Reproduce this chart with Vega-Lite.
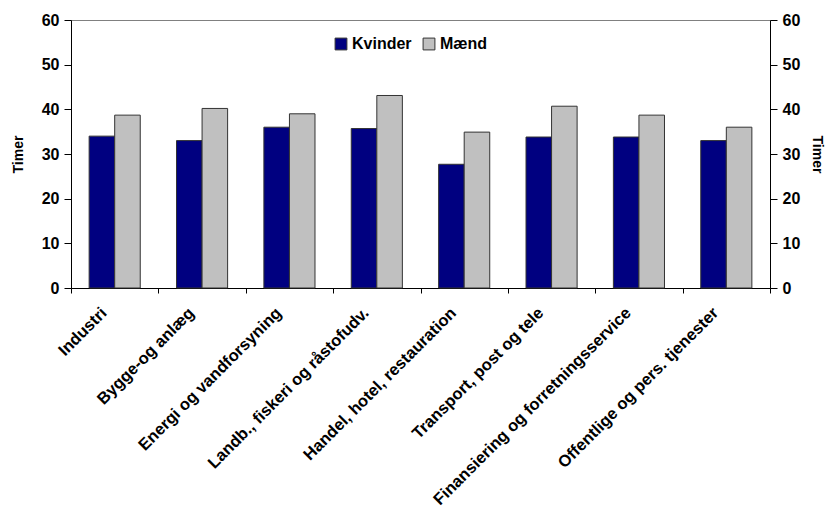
{
  "$schema": "https://vega.github.io/schema/vega-lite/v6.json",
  "autosize": "none",
  "width": 699,
  "height": 268,
  "padding": {"left": 71, "top": 20, "right": 56, "bottom": 227},
  "background": "white",
  "config": {
    "view": {"stroke": "#808080", "strokeWidth": 1},
    "font": "Liberation Sans"
  },
  "data": {
    "values": [
      {"branche": "Industri", "koen": "Kvinder", "timer": 34.0},
      {"branche": "Industri", "koen": "Mænd", "timer": 38.7},
      {"branche": "Bygge-og anlæg", "koen": "Kvinder", "timer": 33.0},
      {"branche": "Bygge-og anlæg", "koen": "Mænd", "timer": 40.2},
      {"branche": "Energi og vandforsyning", "koen": "Kvinder", "timer": 36.0},
      {"branche": "Energi og vandforsyning", "koen": "Mænd", "timer": 39.0},
      {"branche": "Landb., fiskeri og råstofudv.", "koen": "Kvinder", "timer": 35.7},
      {"branche": "Landb., fiskeri og råstofudv.", "koen": "Mænd", "timer": 43.1},
      {"branche": "Handel, hotel, restauration", "koen": "Kvinder", "timer": 27.7},
      {"branche": "Handel, hotel, restauration", "koen": "Mænd", "timer": 34.9},
      {"branche": "Transport, post og tele", "koen": "Kvinder", "timer": 33.8},
      {"branche": "Transport, post og tele", "koen": "Mænd", "timer": 40.7},
      {"branche": "Finansiering og forretningsservice", "koen": "Kvinder", "timer": 33.8},
      {"branche": "Finansiering og forretningsservice", "koen": "Mænd", "timer": 38.7},
      {"branche": "Offentlige og pers. tjenester", "koen": "Kvinder", "timer": 33.0},
      {"branche": "Offentlige og pers. tjenester", "koen": "Mænd", "timer": 36.0}
    ]
  },
  "encoding": {
    "x": {
      "field": "branche",
      "type": "nominal",
      "sort": null,
      "scale": {"paddingInner": 0, "paddingOuter": 0},
      "axis": {
        "title": null,
        "labelAngle": -45,
        "labelAlign": "right",
        "labelBaseline": "middle",
        "labelFont": "Liberation Sans",
        "labelFontSize": 16.5,
        "labelFontWeight": "bold",
        "labelColor": "black",
        "labelPadding": 17,
        "labelOffset": -11,
        "labelLimit": 400,
        "tickBand": "extent",
        "tickColor": "black",
        "tickSize": 5,
        "domainColor": "black",
        "grid": false
      }
    }
  },
  "layer": [
    {
      "mark": {"type": "bar", "stroke": "#333333", "strokeWidth": 1},
      "encoding": {
        "xOffset": {
          "field": "koen",
          "type": "nominal",
          "sort": ["Kvinder", "Mænd"],
          "scale": {"paddingInner": 0, "paddingOuter": 0.71}
        },
        "y": {
          "field": "timer",
          "type": "quantitative",
          "stack": null,
          "scale": {"domain": [0, 60]},
          "axis": {
            "orient": "left",
            "title": "Timer",
            "titleFont": "Liberation Sans",
            "titleFontSize": 14,
            "titleFontWeight": "bold",
            "titleColor": "black",
            "titlePadding": 16,
            "values": [0, 10, 20, 30, 40, 50, 60],
            "labelFont": "Liberation Sans",
            "labelFontSize": 16,
            "labelFontWeight": "bold",
            "labelColor": "black",
            "labelPadding": 5,
            "tickColor": "black",
            "tickSize": 7,
            "domainColor": "black",
            "grid": false
          }
        },
        "color": {
          "field": "koen",
          "type": "nominal",
          "sort": ["Kvinder", "Mænd"],
          "scale": {"domain": ["Kvinder", "Mænd"], "range": ["#000080", "#C0C0C0"]},
          "legend": {
            "title": null,
            "orient": "none",
            "legendX": 262,
            "legendY": 16,
            "direction": "horizontal",
            "symbolType": "square",
            "symbolSize": 140,
            "symbolStrokeColor": "#333333",
            "symbolStrokeWidth": 1,
            "symbolOpacity": 1,
            "labelFont": "Liberation Sans",
            "labelFontSize": 16,
            "labelFontWeight": "bold",
            "labelColor": "black",
            "columnPadding": 9,
            "labelOffset": 3
          }
        }
      }
    },
    {
      "mark": {"type": "bar", "opacity": 0},
      "encoding": {
        "y": {
          "field": "timer",
          "type": "quantitative",
          "stack": null,
          "scale": {"domain": [0, 60]},
          "axis": {
            "orient": "right",
            "title": "Timer",
            "titleFont": "Liberation Sans",
            "titleFontSize": 14,
            "titleFontWeight": "bold",
            "titleColor": "black",
            "titlePadding": 10,
            "values": [0, 10, 20, 30, 40, 50, 60],
            "labelFont": "Liberation Sans",
            "labelFontSize": 16,
            "labelFontWeight": "bold",
            "labelColor": "black",
            "labelPadding": 5,
            "tickColor": "black",
            "tickSize": 7,
            "domainColor": "black",
            "grid": false
          }
        }
      }
    }
  ],
  "resolve": {"axis": {"y": "independent"}}
}
